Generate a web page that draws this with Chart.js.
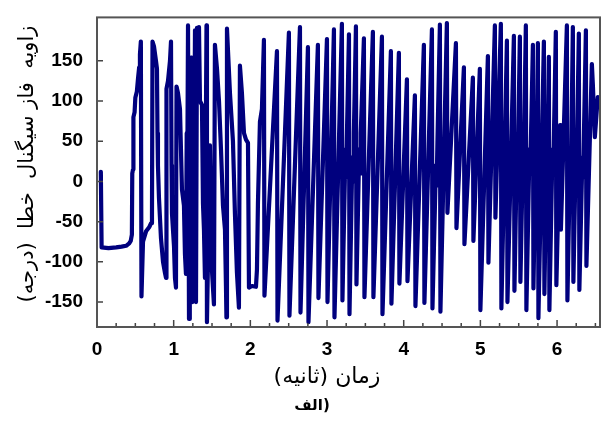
<!DOCTYPE html>
<html>
<head>
<meta charset="utf-8">
<script src="https://cdn.jsdelivr.net/npm/chart.js"></script>
<style>
  html, body { margin: 0; padding: 0; background: #fff; }
  #wrap { width: 603px; height: 422px; }
</style>
</head>
<body>
<div id="wrap"><canvas id="chart" width="603" height="422"></canvas></div>
<script>
// time (s) and phase error angle (deg)
const time = [
  0.050, 0.060, 0.15, 0.25, 0.32, 0.38, 0.42, 0.44, 0.455, 0.46, 0.47, 0.475, 0.49, 0.50, 0.52, 0.535, 0.55, 0.56, 0.572, 0.58,
  0.60, 0.64, 0.68, 0.705, 0.717, 0.724, 0.743, 0.769, 0.782, 0.789, 0.795, 0.808, 0.834, 0.861, 0.887, 0.90,
  0.906, 0.926, 0.952, 0.965, 0.972, 0.978, 1.004, 1.017, 1.030, 1.037, 1.056, 1.082, 1.108, 1.134, 1.147, 1.160,
  1.17, 1.175, 1.187, 1.20, 1.21, 1.215, 1.226, 1.235, 1.24, 1.245, 1.26, 1.265, 1.278, 1.291, 1.304, 1.317, 1.33, 1.343, 1.369, 1.382, 1.395, 1.408, 1.428, 1.434,
  1.473, 1.486, 1.499, 1.525, 1.538, 1.565, 1.591, 1.617, 1.643, 1.669, 1.682, 1.688, 1.695, 1.734, 1.773, 1.799,
  1.825, 1.851, 1.864, 1.89, 1.917, 1.943, 1.969, 1.982, 2.021, 2.073, 2.086, 2.099, 2.125, 2.151,
  2.177, 2.184, 2.347, 2.354, 2.503, 2.510, 2.647, 2.654,
  2.751, 2.758, 2.881, 2.888, 2.999, 3.006, 3.090, 3.097,
  3.194, 3.201, 3.24, 3.25, 3.262, 3.286, 3.293, 3.33,
  3.34, 3.35, 3.377, 3.384, 3.42, 3.43, 3.44, 3.481,
  3.488, 3.598, 3.605, 3.716, 3.723, 3.833, 3.840, 3.937,
  3.944, 4.042, 4.049, 4.146, 4.153, 4.263, 4.270, 4.368,
  4.375, 4.42, 4.43, 4.44, 4.472, 4.479, 4.563, 4.570,
  4.681, 4.688, 4.785, 4.792, 4.902, 4.909, 4.993, 5.000,
  5.098, 5.105, 5.189, 5.196, 5.267, 5.274, 5.346, 5.353,
  5.437, 5.444, 5.475, 5.485, 5.515, 5.522, 5.55, 5.56,
  5.57, 5.593, 5.600, 5.64, 5.65, 5.685, 5.692, 5.72,
  5.73, 5.750, 5.757, 5.828, 5.835, 5.86, 5.87, 5.893,
  5.900, 5.94, 5.95, 5.984, 5.991, 6.04, 6.05, 6.128,
  6.135, 6.17, 6.18, 6.206, 6.213, 6.245, 6.255, 6.284,
  6.291, 6.33, 6.34, 6.376, 6.383, 6.454, 6.467, 6.493,
  6.519, 6.532
];
const angle = [
  12, -82, -83, -82, -81, -80, -77, -74, -66, 10, 15, 80, 86, 104, 112, 128, 142, 158, 174, -143,
  -75, -62, -57, -52, -45, 174, 168, 150, 140, 60, 20, -20, -70, -100, -114, -120,
  115, 125, 150, 174, 20, -40, -80, -120, -132, 118, 110, 90, -10, -30, -90, -115,
  60, -40, 194, -171, 50, -50, 154, -60, 30, -150, 80, -20, 188, -150, 191, 100, 192, 100, 95, -27, -60, -120, 194, -175,
  45, -40, -110, -153, 170, 140, 100, 40, -30, -60, -130, -169, 190, 110, 50, -40,
  -113, -157, 144, 110, 60, 52, 48, -132, -130, -131, -110, -27, 74, 90,
  176, -142, 162, -173, 185, -167, 192, -163,
  167, -175, 170, -145, 177, -150, 189, -169,
  196, -148, 40, 5, 70, 183, -165, 30,
  0, 60, 193, -128, 40, 10, 60, 178,
  -144, 186, -144, 180, -165, 162, -152, 160,
  -127, 127, -124, 107, -155, 170, -151, 189,
  -158, 20, -5, 50, 195, -162, 197, -39,
  172, -58, 142, -78, 129, -74, 140, -160,
  156, -101, 194, -45, 196, -158, 175, -150,
  181, -136, 30, 5, 180, -125, 10, -10,
  60, 194, -160, 40, 10, 170, -133, 30,
  0, 172, -170, 174, -140, 20, -10, 155,
  -160, 40, 10, 186, -129, 70, -60, 194,
  -148, 30, 0, 192, -125, 40, 15, 184,
  -135, 30, 5, 188, -105, 146, 120, 55,
  90, 105
];
const xTicks = [0, 1, 2, 3, 4, 5, 6];
const yTicks = [-150, -100, -50, 0, 50, 100, 150];
const xTitle = '\u200Fزمان (ثانیه)\u200F';
const yTitle = '\u200Fزاویه  فاز سیگنال  خطا  (درجه)\u200F';
const caption = 'الف)';

const points = time.map((t, i) => ({ x: t, y: angle[i] }));

const frame = {
  id: 'frame',
  afterDatasetsDraw(chart) {
    const { ctx, chartArea: a, scales: { x, y } } = chart;
    ctx.save();
    ctx.strokeStyle = '#444';
    ctx.lineWidth = 1.5;
    ctx.beginPath();
    yTicks.forEach(v => {
      const py = y.getPixelForValue(v);
      ctx.moveTo(a.left, py); ctx.lineTo(a.left + 6, py);
    });
    for (let v = 0; v <= x.max; v += 0.25) {
      const px = x.getPixelForValue(v);
      const len = Number.isInteger(v) ? 7 : 4;
      ctx.moveTo(px, a.bottom); ctx.lineTo(px, a.bottom - len);
    }
    ctx.stroke();
    ctx.strokeStyle = '#555';
    ctx.lineWidth = 2;
    ctx.strokeRect(a.left, a.top, a.right - a.left, a.bottom - a.top);
    ctx.restore();
  },
  afterDraw(chart) {
    const { ctx } = chart;
    ctx.save();
    ctx.fillStyle = '#000';
    ctx.textAlign = 'center';
    ctx.textBaseline = 'middle';
    ctx.font = '22px "DejaVu Sans"';
    ctx.fillText(xTitle, 327, 377);
    ctx.font = 'bold 15px "DejaVu Sans"';
    ctx.fillText(caption, 312, 406);
    ctx.translate(28, 164);
    ctx.rotate(-Math.PI / 2);
    ctx.font = '21px "DejaVu Sans"';
    ctx.fillText(yTitle, 0, 0);
    ctx.restore();
  }
};

new Chart(document.getElementById('chart'), {
  type: 'line',
  data: {
    datasets: [
      { data: points, borderColor: '#00007e', borderWidth: 4.2, pointRadius: 0, tension: 0,
        borderJoinStyle: 'round', borderCapStyle: 'round' },
      { data: points, borderColor: '#1010ff', borderWidth: 2.6, pointRadius: 0, tension: 0,
        borderJoinStyle: 'round', borderCapStyle: 'round' }
    ]
  },
  options: {
    responsive: false,
    animation: false,
    devicePixelRatio: 1,
    layout: { padding: { top: 5, right: 3, left: 0, bottom: 0 } },
    plugins: { legend: { display: false }, tooltip: { enabled: false } },
    scales: {
      x: {
        type: 'linear', min: 0, max: 6.56,
        afterBuildTicks: s => { s.ticks = xTicks.map(v => ({ value: v })); },
        afterFit: s => { s.height = 95; },
        grid: { display: false },
        border: { display: false },
        ticks: { color: '#000', padding: 3, maxRotation: 0, autoSkip: false,
          font: { family: '"Liberation Sans", Arial, sans-serif', size: 19, weight: 'bold' } }
      },
      y: {
        min: -181, max: 204,
        afterBuildTicks: s => { s.ticks = yTicks.map(v => ({ value: v })); },
        afterFit: s => { s.width = 97; },
        grid: { display: false },
        border: { display: false },
        ticks: { color: '#000', padding: 6,
          font: { family: '"Liberation Sans", Arial, sans-serif', size: 19, weight: 'bold' } }
      }
    }
  },
  plugins: [frame]
});
</script>
</body>
</html>
